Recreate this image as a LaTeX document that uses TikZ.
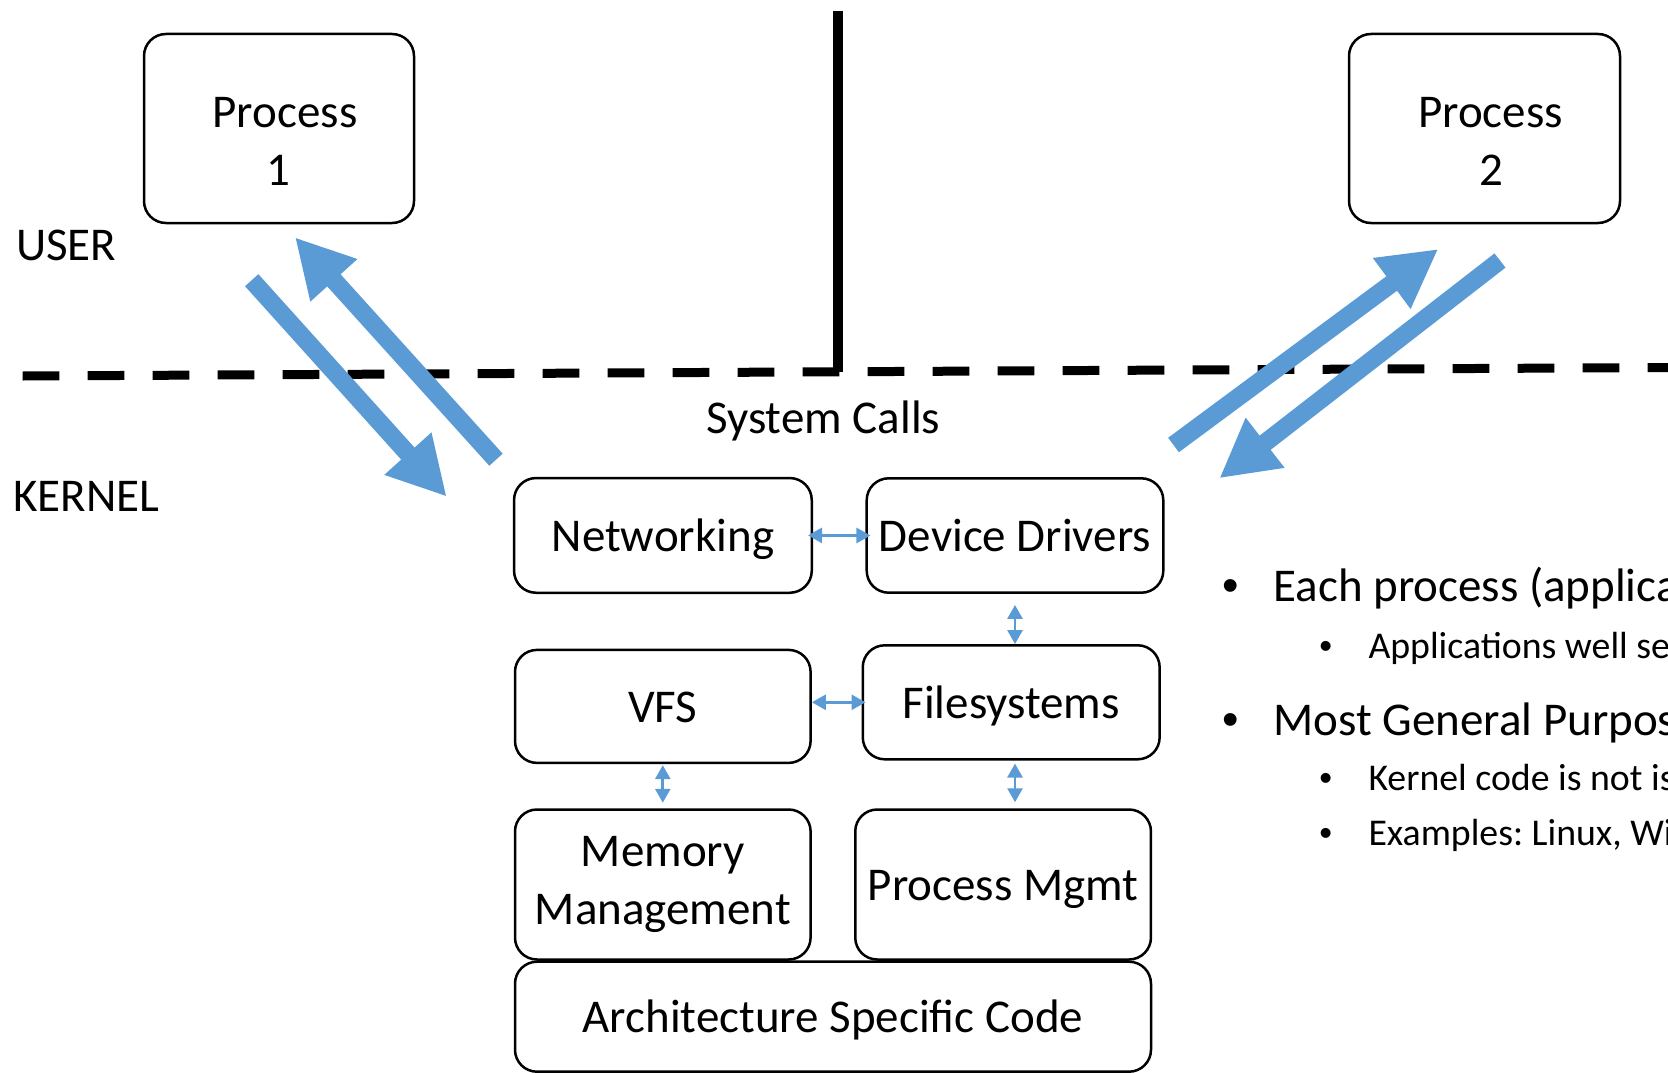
\documentclass[tikz,border=0pt]{standalone}
\usepackage{fontspec}
\setmainfont{Carlito}
\newfontfamily\bulletfont{Liberation Sans}
\usetikzlibrary{arrows.meta}
\definecolor{callblue}{HTML}{5B9BD5}
\frenchspacing
\begin{document}
\begin{tikzpicture}[x=1pt,y=-1pt,
  box/.style={draw,line width=2.5pt,rounded corners=22pt,align=center,inner sep=0pt,
    font=\fontsize{47}{57.6}\selectfont},
  part/.style={box,text height=32pt,text depth=0pt},
  txt/.style={inner sep=0pt,anchor=base west,font=\fontsize{47}{57.6}\selectfont},
  subtxt/.style={inner sep=0pt,anchor=base west,font=\fontsize{37.8}{44}\selectfont},
  bul/.style={inner sep=0pt,anchor=base,font=\bulletfont\fontsize{47}{57.6}\selectfont},
  subbul/.style={inner sep=0pt,anchor=base,font=\bulletfont\fontsize{36.5}{44}\selectfont},
  syscall/.style={draw=callblue,line width=18pt,-{Triangle[width=59pt,length=58pt]}},
  link/.style={draw=callblue,line width=2.7pt,
    {Triangle[width=15pt,length=14pt]}-{Triangle[width=15pt,length=14pt]}}]
\useasboundingbox (0,0) rectangle (1668,1073);
% user / kernel boundary
\draw[line width=9pt,dash pattern=on 36.7pt off 28.3pt] (22.7,376) -- (1668,367.5);
\draw[line width=10.5pt] (838,10.6) -- (838,372);
\node[txt] (user) at (16,260.7) {USER};
\node[txt] (kernel) at (13.3,511.7) {KERNEL};
\node[txt] (sys) at (706,433.3) {System Calls};
% processes
\node[box,minimum width=270pt,minimum height=189pt] (P1) at (279,128.5) {\rule{0pt}{56pt}\hspace*{12pt}Process\\\hspace*{-2pt}1};
\node[box,minimum width=271pt,minimum height=189pt] (P2) at (1484.5,128.5) {\rule{0pt}{56pt}\hspace*{12pt}Process\\\hspace*{14pt}2};
% kernel parts
\node[part,minimum width=297.7pt,minimum height=114.7pt] (net) at (662.9,535.4) {Networking};
\node[part,minimum width=296.6pt,minimum height=114.4pt] (dd) at (1015,535.5) {Device Drivers};
\node[part,minimum width=295.6pt,minimum height=113pt] (vfs) at (662.8,706.4) {VFS};
\node[part,minimum width=296.9pt,minimum height=114pt] (fs) at (1011.2,702.3) {Filesystems};
\node[box,minimum width=295.6pt,minimum height=150pt] (mem) at (662.8,884.5) {Memory\\Management};
\node[part,minimum width=295.7pt,minimum height=150pt] (pm) at (1003.1,884.5) {Process Mgmt};
\node[part,minimum width=636pt,minimum height=110pt] (arch) at (833,1016.7) {Architecture Specific Code};
% system call arrows
\coordinate (u1) at (251.7,280.2);
\coordinate (k1) at (446.7,496.7);
\coordinate (k2) at (496,459.7);
\coordinate (u2) at (295,237.3);
\coordinate (k3) at (1173.5,445);
\coordinate (u3) at (1438.3,249);
\coordinate (u4) at (1500,260.5);
\coordinate (k4) at (1219.3,478.3);
\draw[syscall] (u1) -- (k1);
\draw[syscall] (k2) -- (u2);
\draw[syscall] (k3) -- (u3);
\draw[syscall] (u4) -- (k4);
% links between parts
\draw[link,shorten <=-5pt,shorten >=-5pt] (net.east) -- (dd.west);
\draw[link,shorten >=-4pt] (fs.west -| vfs.east) -- (fs.west);
\draw[link,shorten <=11pt] (dd.south) -- (dd.south |- fs.north);
\draw[link,shorten <=3pt,shorten >=6pt] (dd.south |- fs.south) -- (dd.south |- pm.north);
\draw[link,shorten <=1pt,shorten >=5.5pt] (vfs.south) -- (mem.north);
% notes
\node[bul] (b1) at (1230.7,601.7) {•};
\node[txt] (t1) at (1273.3,601.7) {Each process (applica};
\node[subbul] (b2) at (1325.7,658.3) {•};
\node[subtxt] (t2) at (1368.3,658.3) {Applications well se};
\node[bul] (b3) at (1230.7,735) {•};
\node[txt] (t3) at (1273.3,735) {Most General Purpos};
\node[subbul] (b4) at (1325.7,790.7) {•};
\node[subtxt] (t4) at (1368.3,790.7) {Kernel code is not is};
\node[subbul] (b5) at (1325.7,845) {•};
\node[subtxt] (t5) at (1368.3,845) {Examples: Linux, Wi};
\end{tikzpicture}
\end{document}
